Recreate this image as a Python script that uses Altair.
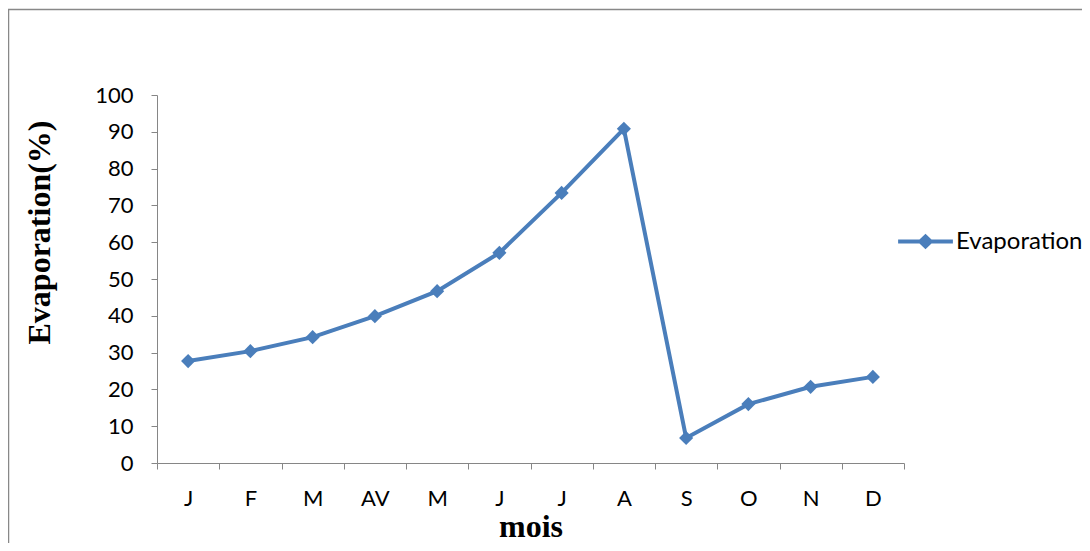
import json
import altair as alt
import pandas as pd

months = ["J", "F", "M", "AV", "M", "J", "J", "A", "S", "O", "N", "D"]
evaporation = [27.7, 30.4, 34.2, 39.9, 46.7, 57.1, 73.4, 90.8, 6.8, 16.0, 20.7, 23.4]
series_name = "Evaporation"

df = pd.DataFrame({
    "idx": list(range(len(months))),
    "val": evaporation,
    "serie": [series_name] * len(months),
})

W, H = 747, 368
PL, PT, PR, PB = 149, 87, 178, 80

label_expr = json.dumps(months) + "[datum.value]"
FONT = "Lato"
GRAY = "#868686"
BLUE = "#4A7EBB"

x_enc = alt.X(
    "idx:O",
    scale=alt.Scale(type="band", paddingInner=0, paddingOuter=0),
    axis=alt.Axis(
        title="mois", labelExpr=label_expr, labelAngle=0, tickBand="extent",
        domainColor=GRAY, tickColor=GRAY, tickSize=6, labelPadding=19,
        labelFont=FONT, labelFontSize=22, labelColor="black",
        titleFont="Liberation Serif", titleFontSize=32, titleFontWeight="bold",
        titleColor="black", titlePadding=2, grid=False,
    ),
)
y_enc = alt.Y(
    "val:Q",
    scale=alt.Scale(domain=[0, 100], nice=False),
    axis=alt.Axis(
        title="Evaporation(%)", values=list(range(0, 101, 10)),
        domainColor=GRAY, tickColor=GRAY, tickSize=6, labelPadding=18,
        labelFont=FONT, labelFontSize=22, labelColor="black",
        titleFont="Liberation Serif", titleFontSize=32, titleFontWeight="bold",
        titleColor="black", titlePadding=38, titleY=137, grid=False,
    ),
)

legend_symbol = ("M-1,-0.075 L-0.22,-0.075 L0,-0.28 L0.22,-0.075 L1,-0.075 L1,0.075 "
                 "L0.22,0.075 L0,0.28 L-0.22,0.075 L-1,0.075 Z")

color_enc = alt.Color(
    "serie:N",
    scale=alt.Scale(range=[BLUE]),
    legend=alt.Legend(
        title=None, orient="none", legendX=741, legendY=119,
        symbolType=legend_symbol, symbolSize=3000, symbolStrokeWidth=0,
        symbolFillColor=BLUE, labelFont=FONT, labelFontSize=24,
        labelColor="black", labelOffset=3,
    ),
)

line = alt.Chart(df).mark_line(strokeWidth=4, color=BLUE).encode(
    x=x_enc, y=y_enc, color=color_enc
)
pts = alt.Chart(df).mark_point(
    shape="diamond", filled=True, size=200, opacity=1, color=BLUE
).encode(x=x_enc, y=y_enc)

frame = alt.Chart(pd.DataFrame({"a": [0]})).mark_rect(
    fill=None, stroke="#888888", strokeWidth=1.5, clip=False
).encode(
    x=alt.value(-PL + 0.5), y=alt.value(-PT + 1.5),
    x2=alt.value(W + PR + 20), y2=alt.value(H + PB + 20),
)

chart = alt.layer(frame, line, pts).properties(
    width=W, height=H,
    padding={"left": PL, "top": PT, "right": PR, "bottom": PB},
    autosize=alt.AutoSizeParams(type="none"),
).configure_view(stroke=None)

chart.save("out.html", embed_options={"renderer": "svg", "actions": False})
